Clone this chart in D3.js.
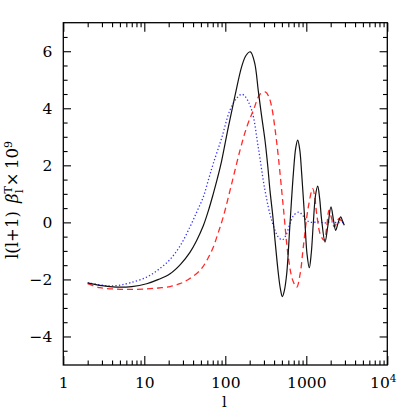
<!DOCTYPE html>
<html>
<head>
<meta charset="utf-8">
<script src="https://cdn.jsdelivr.net/npm/d3@7"></script>
<style>
  body { margin: 0; background: #fff; }
  text { font-family: "DejaVu Serif", serif; }
</style>
</head>
<body>
<div id="chart"></div>
<script>
// values
var blackL = [2, 3, 4.5, 7, 10.7, 15, 20.8, 28, 36.6, 44, 53.5, 62, 71, 80, 90, 109, 132, 159, 180, 204, 230, 255, 280, 309, 335, 356, 385, 411, 452, 480, 506, 535, 573, 629, 692, 740, 783, 830, 877, 964, 1020, 1089, 1150, 1219, 1300, 1383, 1460, 1549, 1702, 1850, 2018, 2160, 2306, 2480, 2660, 2800, 2944];
var blackV = [-2.12, -2.22, -2.27, -2.25, -2.15, -2.0, -1.8, -1.47, -1.05, -0.65, -0.12, 0.42, 1.0, 1.55, 2.15, 3.34, 4.45, 5.45, 5.85, 5.98, 5.6, 4.63, 3.75, 2.88, 1.95, 1.12, 0.25, -0.63, -1.8, -2.35, -2.6, -2.4, -1.8, -0.05, 1.71, 2.6, 2.88, 2.55, 1.71, -0.05, -1.1, -1.59, -1.1, -0.05, 0.95, 1.27, 0.85, 0.07, -0.69, -0.1, 0.54, 0.1, -0.28, 0.0, 0.19, 0.05, -0.1];

var redL = [2, 2.84, 4.56, 7, 10.7, 15, 20.8, 27.5, 35, 48.9, 60, 71, 82, 94.3, 120, 152, 184, 222, 270, 315, 345, 374, 410, 452, 520, 600, 680, 761, 840, 918, 1059, 1199, 1270, 1344, 1500, 1667, 1780, 1906, 2050, 2217, 2380, 2530, 2750, 3000];
var redV = [-2.15, -2.29, -2.34, -2.35, -2.33, -2.3, -2.25, -2.15, -2.0, -1.68, -1.3, -0.87, -0.35, 0.19, 1.36, 2.53, 3.34, 3.93, 4.5, 4.57, 4.4, 4.05, 3.3, 2.29, 0.54, -1.22, -2.03, -2.27, -1.8, -0.87, 0.54, 1.18, 0.9, 0.3, -0.45, -0.63, -0.2, 0.42, 0.15, -0.16, 0.0, 0.13, 0.05, 0.08];

var blueL = [2, 3, 3.77, 5, 6.66, 10.7, 15, 20.8, 28, 36.6, 45, 53.5, 62, 71, 90, 114, 138, 159, 175, 212, 255, 309, 374, 452, 506, 560, 629, 700, 813, 900, 1012, 1150, 1400, 1700, 2000, 2400, 3000];
var blueV = [-2.12, -2.2, -2.23, -2.2, -2.12, -1.92, -1.65, -1.3, -0.8, -0.16, 0.4, 0.89, 1.5, 2.06, 2.95, 3.93, 4.35, 4.49, 4.42, 3.93, 2.64, 1.12, 0.07, -0.52, -0.61, -0.45, -0.05, 0.25, 0.36, 0.25, 0.07, 0.0, 0.02, -0.02, 0.02, -0.01, 0.0];

var xMajor = [1, 10, 100, 1000, 10000];
var yMajor = [-4, -2, 0, 2, 4, 6];

var width = 409,
    height = 409;
var mLeft = 63.3, mRight = 387.3, mTop = 22.7, mBottom = 365;

var svg = d3.select("#chart")
    .append("svg")
    .attr("width", width)
    .attr("height", height);

var x = d3.scaleLog().domain([1, 10000]).range([mLeft, mRight]);
var y = d3.scaleLinear().domain([-5, 7]).range([mBottom, mTop]);

// minor ticks
var xMinor = [];
for (var d = 1; d < 10000; d *= 10) {
    for (var k = 2; k <= 9; k++) xMinor.push(d * k);
}
var yMinor = d3.range(-4.5, 7, 0.5).filter(function(v) { return yMajor.indexOf(v) < 0; });

function tickStyle(g) {
    g.select(".domain").remove();
    g.selectAll("line").attr("stroke", "#000").attr("stroke-width", 1.1);
}

// bottom & top
svg.append("g").attr("transform", "translate(0," + mBottom + ")")
    .call(d3.axisBottom(x).tickValues(xMinor).tickSize(-4.5).tickFormat(""))
    .call(tickStyle);
svg.append("g").attr("transform", "translate(0," + mTop + ")")
    .call(d3.axisTop(x).tickValues(xMinor).tickSize(-4.5).tickFormat(""))
    .call(tickStyle);
svg.append("g").attr("transform", "translate(0," + mTop + ")")
    .call(d3.axisTop(x).tickValues(xMajor).tickSize(-9).tickFormat(""))
    .call(tickStyle);
var xAxis = svg.append("g").attr("transform", "translate(0," + mBottom + ")")
    .call(d3.axisBottom(x).tickValues(xMajor).tickSize(-9).tickPadding(12)
        .tickFormat(function(d) { return d === 10000 ? "" : String(d); }))
    .call(tickStyle);
xAxis.selectAll("text").attr("font-size", 15.5).attr("fill", "#000")
    .attr("font-family", "DejaVu Serif");

// 10^4 label
var sup = svg.append("text")
    .attr("x", x(10000) - 4)
    .attr("y", 388)
    .attr("text-anchor", "middle")
    .attr("font-size", 15.5);
sup.append("tspan").text("10");
sup.append("tspan").attr("font-size", 10.5).attr("dy", -6).text("4");

// left & right
svg.append("g").attr("transform", "translate(" + mLeft + ",0)")
    .call(d3.axisLeft(y).tickValues(yMinor).tickSize(-4.3).tickFormat(""))
    .call(tickStyle);
svg.append("g").attr("transform", "translate(" + mRight + ",0)")
    .call(d3.axisRight(y).tickValues(yMinor).tickSize(-4.3).tickFormat(""))
    .call(tickStyle);
svg.append("g").attr("transform", "translate(" + mRight + ",0)")
    .call(d3.axisRight(y).tickValues(yMajor).tickSize(-7.7).tickFormat(""))
    .call(tickStyle);
var yAxis = svg.append("g").attr("transform", "translate(" + mLeft + ",0)")
    .call(d3.axisLeft(y).tickValues(yMajor).tickSize(-7.7).tickPadding(11)
        .tickFormat(function(d) { return d < 0 ? "\u2212" + Math.abs(d) : String(d); }))
    .call(tickStyle);
yAxis.selectAll("text").attr("font-size", 15.5).attr("fill", "#000")
    .attr("font-family", "DejaVu Serif");

// frame
svg.append("rect")
    .attr("x", mLeft).attr("y", mTop)
    .attr("width", mRight - mLeft).attr("height", mBottom - mTop)
    .attr("fill", "none").attr("stroke", "#000").attr("stroke-width", 1.3);

// curves
var line = d3.line()
    .x(function(d) { return x(d[0]); })
    .y(function(d) { return y(d[1]); })
    .curve(d3.curveCatmullRom.alpha(0.5));

function pairs(ls, vs) {
    return ls.map(function(l, i) { return [l, vs[i]]; });
}

svg.append("path")
    .datum(pairs(blueL, blueV))
    .attr("d", line)
    .attr("fill", "none")
    .attr("stroke", "#3333ff")
    .attr("stroke-width", 1.3)
    .attr("stroke-dasharray", "1.3,2.2");

svg.append("path")
    .datum(pairs(redL, redV))
    .attr("d", line)
    .attr("fill", "none")
    .attr("stroke", "#ff2a2a")
    .attr("stroke-width", 1.3)
    .attr("stroke-dasharray", "6,4");

svg.append("path")
    .datum(pairs(blackL, blackV))
    .attr("d", line)
    .attr("fill", "none")
    .attr("stroke", "#111")
    .attr("stroke-width", 1.2);

// axis titles
svg.append("text")
    .attr("x", x(100) - 1)
    .attr("y", 406.5)
    .attr("text-anchor", "middle")
    .attr("font-size", 15)
    .text("l");

var yl = svg.append("text")
    .attr("transform", "translate(18,200) rotate(-90)")
    .attr("text-anchor", "middle")
    .attr("font-size", 16.5);
yl.append("tspan").text("l(l+1)\u2002");
yl.append("tspan").attr("font-style", "italic").text("\u03b2");
yl.append("tspan").attr("font-size", 11).attr("dy", -6).text("T");
yl.append("tspan").attr("font-size", 11).attr("dx", -7).attr("dy", 11).text("l");
yl.append("tspan").attr("dy", -5).text("\u2009\u00d7\u200910");
yl.append("tspan").attr("font-size", 11).attr("dy", -6).text("9");
</script>
</body>
</html>
